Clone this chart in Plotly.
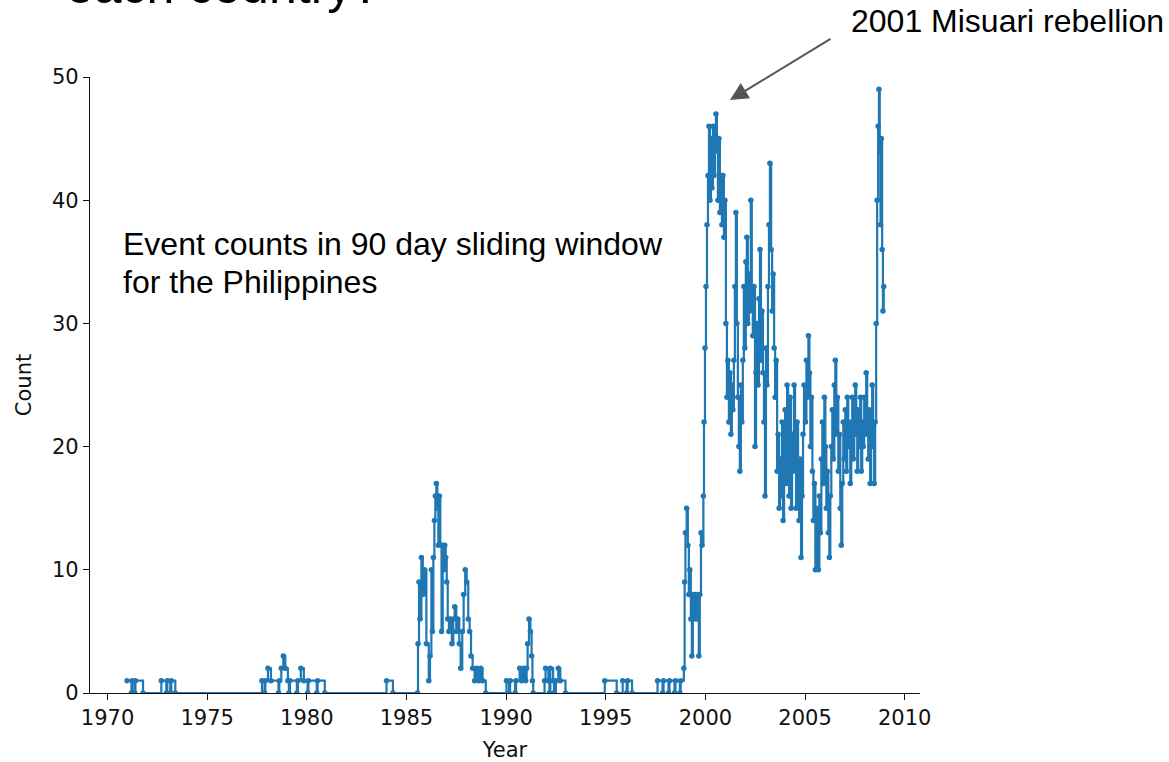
import plotly.graph_objects as go

# ---------------- data ----------------
years_early = [1970.98, 1971.2, 1971.24, 1971.36, 1971.4, 1971.78,
               1972.7, 1972.95, 1973.0, 1973.15, 1973.2, 1973.4,
               1977.75, 1977.88, 1977.92, 1978.05, 1978.2, 1978.58, 1978.62, 1978.72,
               1978.82, 1978.92, 1979.05, 1979.1, 1979.15, 1979.5, 1979.55, 1979.7,
               1979.85, 1980.04, 1980.08, 1980.5, 1980.54, 1980.9,
               1984.0, 1984.32]
counts_early = [1, 0, 1, 0, 1, 0,
                1, 0, 1, 0, 1, 0,
                1, 0, 1, 2, 1, 0, 1, 2,
                3, 2, 1, 0, 1, 0, 1, 2,
                1, 0, 1, 0, 1, 0,
                1, 0]

years_1986 = [1985.55, 1985.58, 1985.63, 1985.68, 1985.75, 1985.82, 1985.9, 1986.0,
              1986.12, 1986.18, 1986.25, 1986.3, 1986.35, 1986.4, 1986.45, 1986.5,
              1986.55, 1986.6, 1986.65, 1986.7, 1986.76, 1986.82, 1986.87, 1986.92,
              1986.97, 1987.02, 1987.07, 1987.13, 1987.2, 1987.28, 1987.35, 1987.42,
              1987.5, 1987.57, 1987.65, 1987.72, 1987.8, 1987.87, 1987.95, 1988.02,
              1988.1, 1988.17, 1988.24, 1988.32, 1988.42, 1988.52, 1988.62, 1988.72,
              1988.82, 1988.98]
counts_1986 = [0, 4, 9, 6, 11, 8, 10, 4,
               1, 3, 10, 5, 11, 14, 16, 17,
               15, 12, 16, 12, 5, 12, 10, 12,
               11, 9, 6, 5, 6, 4, 6, 7,
               5, 6, 4, 2, 5, 8, 10, 9,
               6, 5, 3, 2, 1, 2, 1, 2,
               1, 0]

years_1991 = [1990.02, 1990.15, 1990.2, 1990.45, 1990.5, 1990.68, 1990.78, 1990.88,
              1990.98, 1991.03, 1991.08, 1991.15, 1991.22, 1991.28, 1991.32, 1991.36,
              1991.93, 1991.98, 1992.12, 1992.17, 1992.22, 1992.36, 1992.4, 1992.5,
              1992.62, 1992.72, 1992.98]
counts_1991 = [1, 0, 1, 0, 1, 2, 1, 2,
               1, 2, 4, 6, 5, 3, 1, 0,
               1, 2, 1, 0, 2, 1, 0, 1,
               2, 1, 0]

years_1996 = [1994.95, 1995.55, 1995.85, 1996.05, 1996.1, 1996.32,
              1997.6, 1997.85, 1997.9, 1998.15, 1998.2, 1998.45, 1998.5, 1998.72, 1998.76,
              1998.92, 1998.96, 1999.0, 1999.06, 1999.12, 1999.17, 1999.22, 1999.27,
              1999.32, 1999.37, 1999.42, 1999.47, 1999.52, 1999.57, 1999.62, 1999.67,
              1999.72, 1999.78, 1999.83, 1999.9]
counts_1996 = [1, 0, 1, 0, 1, 0,
               1, 0, 1, 0, 1, 0, 1, 0, 1,
               2, 9, 13, 15, 12, 8, 10, 6,
               3, 8, 6, 8, 7, 6, 8, 3,
               8, 13, 12, 16]

years_2000 = [1999.93, 1999.98, 2000.03, 2000.08, 2000.13, 2000.18, 2000.23, 2000.28,
              2000.33, 2000.38, 2000.43, 2000.48, 2000.53, 2000.58, 2000.63, 2000.68,
              2000.73, 2000.78, 2000.83, 2000.88, 2000.93, 2000.98, 2001.03, 2001.08,
              2001.13, 2001.18, 2001.23, 2001.28, 2001.33, 2001.38, 2001.43, 2001.48,
              2001.53, 2001.58, 2001.63, 2001.68, 2001.73, 2001.78, 2001.83, 2001.88,
              2001.93, 2001.98, 2002.03, 2002.08, 2002.13, 2002.18, 2002.23, 2002.28,
              2002.33, 2002.38, 2002.44, 2002.49, 2002.54, 2002.59, 2002.64, 2002.69,
              2002.74, 2002.79, 2002.84, 2002.89, 2002.94, 2002.99, 2003.04, 2003.09,
              2003.14, 2003.19, 2003.24, 2003.3, 2003.35, 2003.4, 2003.45, 2003.5,
              2003.55, 2003.6, 2003.65, 2003.7, 2003.75, 2003.8, 2003.85, 2003.9,
              2003.95]
counts_2000 = [22, 28, 33, 38, 42, 46, 40, 45,
               41, 46, 42, 45, 47, 44, 40, 45,
               39, 42, 38, 42, 37, 40, 30, 24,
               27, 22, 26, 21, 25, 23, 27, 33,
               39, 30, 24, 20, 18, 25, 22, 27,
               33, 28, 35, 37, 30, 34, 31, 40,
               32, 29, 33, 20, 26, 30, 25, 32,
               36, 27, 31, 26, 22, 16, 28, 25,
               33, 38, 43, 36, 31, 34, 28, 24,
               27, 18, 21, 15, 19, 16, 22, 14,
               18]

years_2004 = [2004.0, 2004.05, 2004.1, 2004.15, 2004.2, 2004.25, 2004.3, 2004.35,
              2004.4, 2004.45, 2004.5, 2004.55, 2004.6, 2004.65, 2004.7, 2004.75,
              2004.8, 2004.85, 2004.9, 2004.95, 2005.02, 2005.07, 2005.12, 2005.17,
              2005.22, 2005.27, 2005.32, 2005.37, 2005.42, 2005.47, 2005.52, 2005.57,
              2005.62, 2005.67, 2005.72, 2005.77, 2005.82, 2005.87, 2005.92, 2005.97,
              2006.02, 2006.07, 2006.12, 2006.17, 2006.22, 2006.27, 2006.32, 2006.37,
              2006.42, 2006.47, 2006.52, 2006.57, 2006.62, 2006.67, 2006.72, 2006.77,
              2006.82, 2006.87, 2006.92, 2006.97]
counts_2004 = [23, 17, 25, 19, 16, 24, 15, 21,
               18, 25, 20, 15, 22, 17, 14, 19,
               11, 16, 21, 25, 22, 27, 24, 29,
               26, 20, 24, 18, 14, 17, 10, 15,
               12, 10, 16, 13, 19, 22, 17, 24,
               20, 15, 18, 13, 11, 16, 20, 23,
               19, 25, 27, 21, 24, 18, 21, 15,
               12, 17, 22, 19]

years_2007 = [2007.02, 2007.07, 2007.12, 2007.17, 2007.22, 2007.27, 2007.32, 2007.37,
              2007.42, 2007.47, 2007.52, 2007.57, 2007.62, 2007.67, 2007.72, 2007.77,
              2007.82, 2007.87, 2007.92, 2007.97, 2008.02, 2008.07, 2008.12, 2008.17,
              2008.22, 2008.27, 2008.32, 2008.37, 2008.42, 2008.47, 2008.52, 2008.57,
              2008.62, 2008.67, 2008.71, 2008.75, 2008.79, 2008.83, 2008.87, 2008.91,
              2008.95]
counts_2007 = [23, 18, 24, 20, 22, 17, 21, 24,
               19, 22, 25, 21, 18, 23, 20, 24,
               18, 22, 20, 24, 21, 26, 22, 19,
               23, 17, 21, 25, 20, 17, 22, 30,
               40, 46, 49, 44, 38, 45, 36, 31,
               33]

x_ticks = [1970, 1975, 1980, 1985, 1990, 1995, 2000, 2005, 2010]
y_ticks = [0, 10, 20, 30, 40, 50]

years = years_early + years_1986 + years_1991 + years_1996 + years_2000 + years_2004 + years_2007
counts = counts_early + counts_1986 + counts_1991 + counts_1996 + counts_2000 + counts_2004 + counts_2007

# ---------------- layout geometry ----------------
W, H = 1169, 762
PL, PR, PT, PB = 90, 920, 77, 693


def px(x):
    return (x - PL) / (PR - PL)


def py(y):
    return (PB - y) / (PB - PT)


BLUE = "#1f77b4"
ANN_FONT = "Liberation Sans, Arial, sans-serif"
AX_FONT = "DejaVu Sans, sans-serif"

fig = go.Figure()
fig.add_trace(go.Scatter(
    x=years, y=counts, mode="lines+markers",
    line=dict(color=BLUE, width=2.2, shape="hv"),
    marker=dict(color=BLUE, size=5.5),
    showlegend=False, hoverinfo="skip",
))

axis_common = dict(
    showgrid=False, zeroline=False, showline=True, linecolor="#111111", linewidth=1.3,
    ticks="outside", ticklen=6, tickwidth=1.3, tickcolor="#111111", automargin=False,
    tickfont=dict(family=AX_FONT, size=21, color="#111111"),
    title_font=dict(family=AX_FONT, size=21, color="#111111"),
)

fig.update_layout(
    width=W, height=H,
    margin=dict(l=PL, r=W - PR, t=PT, b=H - PB),
    paper_bgcolor="white", plot_bgcolor="white",
    xaxis=dict(range=[1969.12, 2010.77], tickvals=x_ticks, title=dict(text="Year", standoff=13),
               **axis_common),
    yaxis=dict(range=[0, 50], tickvals=y_ticks, title=dict(text="Count", standoff=14),
               **axis_common),
)

annotations = [
    dict(text="Event counts in 90 day sliding window", x=px(121), y=py(244),
         xanchor="left", yanchor="middle", font=dict(family=ANN_FONT, size=32, color="black")),
    dict(text="for the Philippines", x=px(121), y=py(282),
         xanchor="left", yanchor="middle", font=dict(family=ANN_FONT, size=32, color="black")),
    dict(text="2001 Misuari rebellion", x=px(849), y=py(21),
         xanchor="left", yanchor="middle", font=dict(family=ANN_FONT, size=32, color="black")),
    dict(text="each country?", x=px(382), y=py(16),
         xanchor="right", yanchor="bottom", font=dict(family=ANN_FONT, size=50, color="black")),
]
for a in annotations:
    a.update(xref="paper", yref="paper", showarrow=False)
    fig.add_annotation(**a)

fig.add_annotation(
    x=px(730), y=py(100), xref="paper", yref="paper", text="",
    showarrow=True, ax=102, ay=-62, axref="pixel", ayref="pixel",
    arrowhead=2, arrowsize=1.8, arrowwidth=2, arrowcolor="#555555",
)

fig.write_html("out.html")
